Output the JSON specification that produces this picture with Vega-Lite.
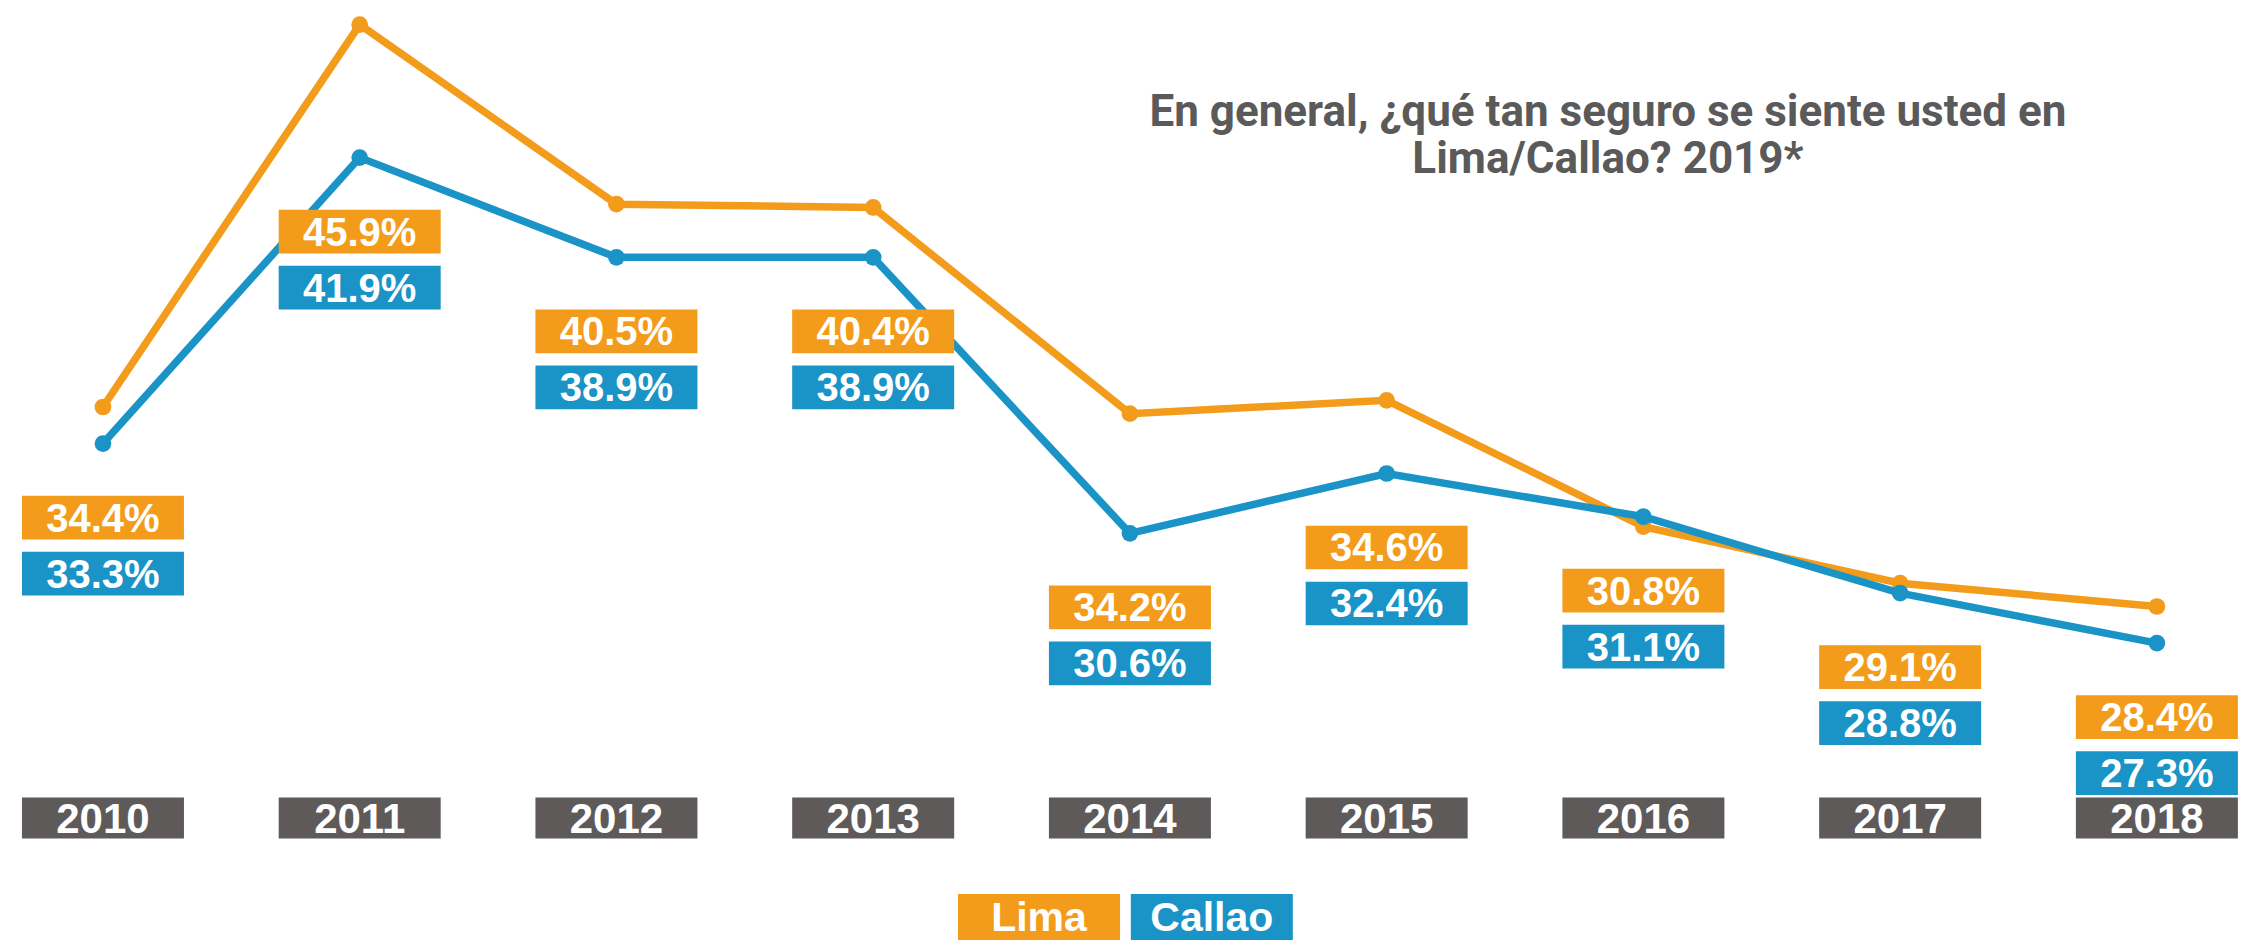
{
  "$schema": "https://vega.github.io/schema/vega-lite/v6.json",
  "width": 2247,
  "height": 943,
  "autosize": {"type": "fit", "contains": "padding"},
  "padding": 0,
  "background": "white",
  "config": {"view": {"stroke": null}},
  "datasets": {
    "series": [
      {"year": 2010, "Lima": 34.4, "Callao": 33.3},
      {"year": 2011, "Lima": 45.9, "Callao": 41.9},
      {"year": 2012, "Lima": 40.5, "Callao": 38.9},
      {"year": 2013, "Lima": 40.4, "Callao": 38.9},
      {"year": 2014, "Lima": 34.2, "Callao": 30.6},
      {"year": 2015, "Lima": 34.6, "Callao": 32.4},
      {"year": 2016, "Lima": 30.8, "Callao": 31.1},
      {"year": 2017, "Lima": 29.1, "Callao": 28.8},
      {"year": 2018, "Lima": 28.4, "Callao": 27.3}
    ],
    "legendLima": [{"label": "Lima"}],
    "legendCallao": [{"label": "Callao"}],
    "titleRow": [{"label": "title"}]
  },
  "layer": [
    {
      "data": {"name": "series"},
      "mark": {"type": "line", "color": "#F39C1B", "strokeWidth": 7.5},
      "encoding": {
        "x": {"field": "year", "type": "quantitative", "scale": {"domain": [2009.599, 2018.351], "nice": false, "zero": false}, "axis": null},
        "y": {"field": "Lima", "type": "quantitative", "scale": {"domain": [18.28, 46.64], "nice": false, "zero": false}, "axis": null}
      }
    },
    {
      "data": {"name": "series"},
      "mark": {"type": "point", "shape": "circle", "filled": true, "opacity": 1, "size": 280, "color": "#F39C1B"},
      "encoding": {
        "x": {"field": "year", "type": "quantitative", "axis": null},
        "y": {"field": "Lima", "type": "quantitative", "axis": null}
      }
    },
    {
      "data": {"name": "series"},
      "mark": {"type": "line", "color": "#1A93C7", "strokeWidth": 7.5},
      "encoding": {
        "x": {"field": "year", "type": "quantitative", "axis": null},
        "y": {"field": "Callao", "type": "quantitative", "axis": null}
      }
    },
    {
      "data": {"name": "series"},
      "mark": {"type": "point", "shape": "circle", "filled": true, "opacity": 1, "size": 280, "color": "#1A93C7"},
      "encoding": {
        "x": {"field": "year", "type": "quantitative", "axis": null},
        "y": {"field": "Callao", "type": "quantitative", "axis": null}
      }
    },
    {
      "data": {"name": "series"},
      "mark": {"type": "point", "shape": "M-1,-0.27H1V0.27H-1Z", "size": 26244, "filled": true, "opacity": 1, "strokeWidth": 0, "color": "#F39C1B", "yOffset": 74},
      "encoding": {
        "x": {"field": "year", "type": "quantitative", "axis": null},
        "y": {"field": "Callao", "type": "quantitative", "axis": null}
      }
    },
    {
      "data": {"name": "series"},
      "transform": [{"calculate": "format(datum.Lima, '.1f') + '%'", "as": "limaLabel"}],
      "mark": {"type": "text", "font": "Liberation Sans", "fontWeight": "bold", "fontSize": 40, "color": "white", "align": "center", "baseline": "middle", "yOffset": 76},
      "encoding": {
        "x": {"field": "year", "type": "quantitative", "axis": null},
        "y": {"field": "Callao", "type": "quantitative", "axis": null},
        "text": {"field": "limaLabel"}
      }
    },
    {
      "data": {"name": "series"},
      "mark": {"type": "point", "shape": "M-1,-0.27H1V0.27H-1Z", "size": 26244, "filled": true, "opacity": 1, "strokeWidth": 0, "color": "#1A93C7", "yOffset": 130},
      "encoding": {
        "x": {"field": "year", "type": "quantitative", "axis": null},
        "y": {"field": "Callao", "type": "quantitative", "axis": null}
      }
    },
    {
      "data": {"name": "series"},
      "transform": [{"calculate": "format(datum.Callao, '.1f') + '%'", "as": "callaoLabel"}],
      "mark": {"type": "text", "font": "Liberation Sans", "fontWeight": "bold", "fontSize": 40, "color": "white", "align": "center", "baseline": "middle", "yOffset": 132},
      "encoding": {
        "x": {"field": "year", "type": "quantitative", "axis": null},
        "y": {"field": "Callao", "type": "quantitative", "axis": null},
        "text": {"field": "callaoLabel"}
      }
    },
    {
      "data": {"name": "series"},
      "mark": {"type": "point", "shape": "M-1,-0.253H1V0.253H-1Z", "size": 26244, "filled": true, "opacity": 1, "strokeWidth": 0, "color": "#5E5A5A"},
      "encoding": {
        "x": {"field": "year", "type": "quantitative", "axis": null},
        "y": {"datum": 22.04, "type": "quantitative", "axis": null}
      }
    },
    {
      "data": {"name": "series"},
      "mark": {"type": "text", "font": "Liberation Sans", "fontWeight": "bold", "fontSize": 42, "color": "white", "align": "center", "baseline": "middle", "yOffset": 2},
      "encoding": {
        "x": {"field": "year", "type": "quantitative", "axis": null},
        "y": {"datum": 22.04, "type": "quantitative", "axis": null},
        "text": {"field": "year", "type": "nominal"}
      }
    },
    {
      "data": {"name": "legendLima"},
      "mark": {"type": "point", "shape": "M-1,-0.284H1V0.284H-1Z", "size": 26244, "filled": true, "opacity": 1, "strokeWidth": 0, "color": "#F39C1B"},
      "encoding": {
        "x": {"datum": 2013.646, "type": "quantitative", "axis": null},
        "y": {"datum": 19.06, "type": "quantitative", "axis": null}
      }
    },
    {
      "data": {"name": "legendLima"},
      "mark": {"type": "text", "font": "Liberation Sans", "fontWeight": "bold", "fontSize": 41, "color": "white", "align": "center", "baseline": "middle", "yOffset": 2},
      "encoding": {
        "x": {"datum": 2013.646, "type": "quantitative", "axis": null},
        "y": {"datum": 19.06, "type": "quantitative", "axis": null},
        "text": {"field": "label", "type": "nominal"}
      }
    },
    {
      "data": {"name": "legendCallao"},
      "mark": {"type": "point", "shape": "M-1,-0.284H1V0.284H-1Z", "size": 26244, "filled": true, "opacity": 1, "strokeWidth": 0, "color": "#1A93C7"},
      "encoding": {
        "x": {"datum": 2014.319, "type": "quantitative", "axis": null},
        "y": {"datum": 19.06, "type": "quantitative", "axis": null}
      }
    },
    {
      "data": {"name": "legendCallao"},
      "mark": {"type": "text", "font": "Liberation Sans", "fontWeight": "bold", "fontSize": 41, "color": "white", "align": "center", "baseline": "middle", "yOffset": 2},
      "encoding": {
        "x": {"datum": 2014.319, "type": "quantitative", "axis": null},
        "y": {"datum": 19.06, "type": "quantitative", "axis": null},
        "text": {"field": "label", "type": "nominal"}
      }
    },
    {
      "data": {"name": "titleRow"},
      "mark": {"type": "text", "font": "Roboto", "fontWeight": "bold", "fontSize": 44, "color": "#5A5A5A", "align": "center", "baseline": "middle", "lineHeight": 47, "text": ["En general, ¿qué tan seguro se siente usted en", "Lima/Callao? 2019*"]},
      "encoding": {
        "x": {"datum": 2015.862, "type": "quantitative", "axis": null},
        "y": {"datum": 43.25, "type": "quantitative", "axis": null}
      }
    }
  ]
}
